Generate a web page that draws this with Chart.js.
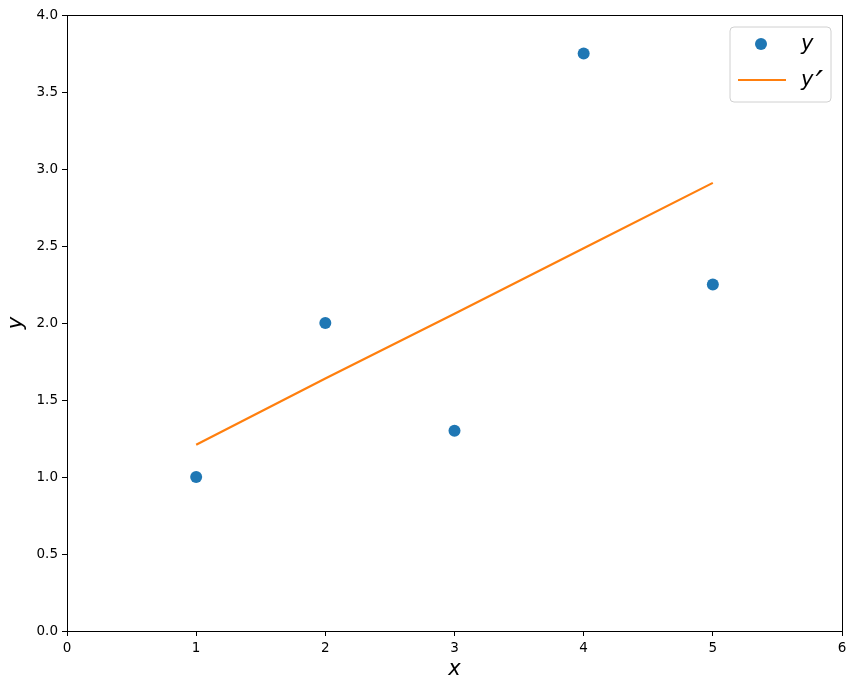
<!DOCTYPE html>
<html>
<head>
<meta charset="utf-8">
<script src="https://cdn.jsdelivr.net/npm/chart.js@4"></script>
<style>
html,body{margin:0;padding:0;background:#fff;}
#wrap{width:856px;height:690px;position:relative;}
</style>
</head>
<body>
<div id="wrap"><canvas id="c" width="856" height="690"></canvas></div>
<script>
const xValues = [1, 2, 3, 4, 5];
const yValues = [1.0, 2.0, 1.3, 3.75, 2.25];
const fitValues = [1.21, 1.64, 2.06, 2.485, 2.91];
const xTicks = [0, 1, 2, 3, 4, 5, 6];
const yTicks = [0.0, 0.5, 1.0, 1.5, 2.0, 2.5, 3.0, 3.5, 4.0];
const seriesLabels = ['y', "y\u2032"];
const axisTitles = {x: 'x', y: 'y'};

const blue = '#1f77b4', orange = '#ff7f0e';

const framePlugin = {
  id: 'frame',
  afterDraw(chart) {
    const ctx = chart.ctx, a = chart.chartArea;
    ctx.save();
    ctx.strokeStyle = '#000';
    ctx.lineWidth = 1;
    ctx.strokeRect(Math.round(a.left) + 0.5, Math.round(a.top) + 0.5, Math.round(a.right - a.left), Math.round(a.bottom - a.top));
    // axis titles
    ctx.fillStyle = '#000';
    ctx.font = 'italic 21px "DejaVu Sans"';
    ctx.textAlign = 'center';
    ctx.textBaseline = 'middle';
    ctx.fillText(axisTitles.x, (a.left + a.right) / 2, 670);
    ctx.save();
    ctx.translate(17, (a.top + a.bottom) / 2);
    ctx.rotate(-Math.PI / 2);
    ctx.fillText(axisTitles.y, 0, 0);
    ctx.restore();
    // legend
    const lx = 730, ly = 27, lw = 101, lh = 75, r = 4;
    ctx.beginPath();
    ctx.moveTo(lx + r, ly);
    ctx.lineTo(lx + lw - r, ly);
    ctx.arcTo(lx + lw, ly, lx + lw, ly + r, r);
    ctx.lineTo(lx + lw, ly + lh - r);
    ctx.arcTo(lx + lw, ly + lh, lx + lw - r, ly + lh, r);
    ctx.lineTo(lx + r, ly + lh);
    ctx.arcTo(lx, ly + lh, lx, ly + lh - r, r);
    ctx.lineTo(lx, ly + r);
    ctx.arcTo(lx, ly, lx + r, ly, r);
    ctx.closePath();
    ctx.fillStyle = 'rgba(255,255,255,0.8)';
    ctx.fill();
    ctx.strokeStyle = '#d0d0d0';
    ctx.lineWidth = 1;
    ctx.stroke();
    ctx.fillStyle = blue;
    ctx.beginPath();
    ctx.arc(761, 44, 6, 0, Math.PI * 2);
    ctx.fill();
    ctx.strokeStyle = orange;
    ctx.lineWidth = 2.2;
    ctx.beginPath();
    ctx.moveTo(738, 80);
    ctx.lineTo(786, 80);
    ctx.stroke();
    ctx.fillStyle = '#000';
    ctx.font = 'italic 21px "DejaVu Sans"';
    ctx.textAlign = 'left';
    ctx.textBaseline = 'middle';
    ctx.fillText(seriesLabels[0], 801, 45);
    const ys = seriesLabels[1];
    ctx.fillText(ys.charAt(0), 801, 81);
    const w = ctx.measureText(ys.charAt(0)).width;
    ctx.font = 'italic 34px "DejaVu Sans"';
    ctx.textBaseline = 'alphabetic';
    ctx.fillText(ys.slice(1), 801 + w + 2, 95);
    ctx.restore();
  }
};

new Chart(document.getElementById('c'), {
  type: 'scatter',
  data: {
    datasets: [
      {
        label: seriesLabels[0],
        data: xValues.map((x, i) => ({x: x, y: yValues[i]})),
        backgroundColor: blue,
        borderColor: blue,
        pointRadius: 6,
        pointHoverRadius: 6,
        borderWidth: 0,
        order: 1
      },
      {
        label: seriesLabels[1],
        data: xValues.map((x, i) => ({x: x, y: fitValues[i]})),
        showLine: true,
        borderColor: orange,
        backgroundColor: orange,
        borderWidth: 2.2,
        pointRadius: 0,
        pointHoverRadius: 0,
        order: 2
      }
    ]
  },
  options: {
    responsive: false,
    animation: false,
    events: [],
    layout: {padding: {top: 15, right: 14, left: 0, bottom: 0}},
    plugins: {legend: {display: false}, tooltip: {enabled: false}},
    scales: {
      x: {
        type: 'linear', min: 0, max: 6,
        afterBuildTicks(s) { s.ticks = xTicks.map(v => ({value: v})); },
        afterFit(s) { s.height = 59; },
        ticks: {color: '#000', font: {family: 'DejaVu Sans', size: 13.5}, padding: 4, maxRotation: 0,
          callback: v => String(v)},
        grid: {drawOnChartArea: false, drawTicks: true, tickLength: 5, color: '#000', tickColor: '#000'},
        border: {display: true, color: '#000'}
      },
      y: {
        type: 'linear', min: 0, max: 4,
        afterBuildTicks(s) { s.ticks = yTicks.map(v => ({value: v})); },
        afterFit(s) { s.width = 67; },
        ticks: {color: '#000', font: {family: 'DejaVu Sans', size: 13.5}, padding: 4,
          callback: v => Number(v).toFixed(1)},
        grid: {drawOnChartArea: false, drawTicks: true, tickLength: 5, color: '#000', tickColor: '#000'},
        border: {display: true, color: '#000'}
      }
    }
  },
  plugins: [framePlugin]
});
</script>
</body>
</html>
